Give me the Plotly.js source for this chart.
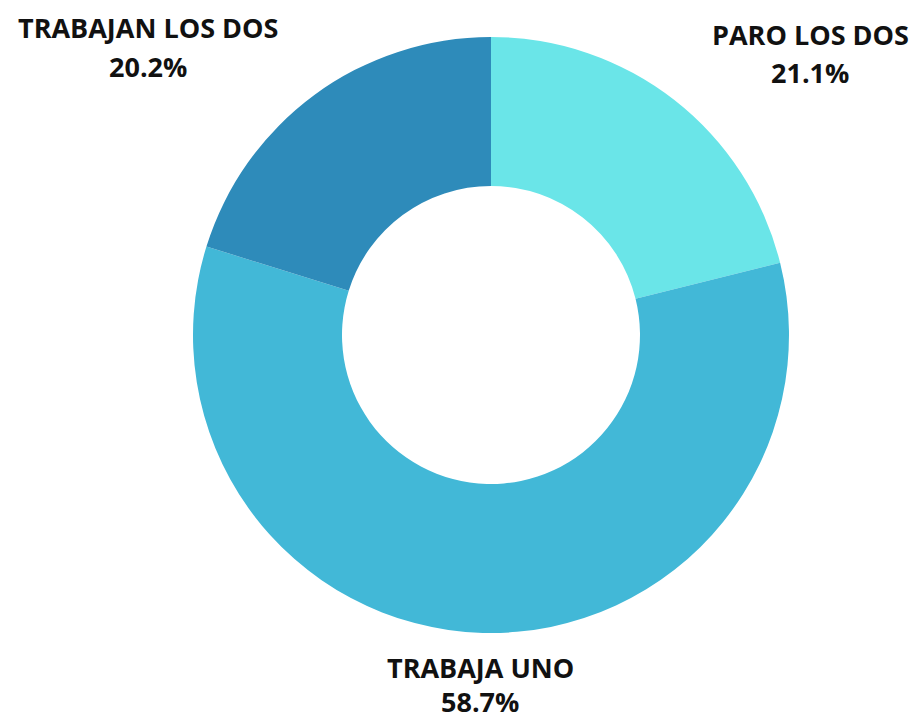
<!DOCTYPE html>
<html>
<head>
<meta charset="utf-8">
<script src="https://cdn.plot.ly/plotly-3.0.1.min.js"></script>
<style>html,body{margin:0;padding:0;background:#fff;}#chart{width:915px;height:721px;}</style>
</head>
<body>
<div id="chart"></div>
<script>
const categories = ["PARO LOS DOS", "TRABAJA UNO", "TRABAJAN LOS DOS"];
const values = [21.1, 58.7, 20.2];
const colors = ["#6AE5E8", "#42B8D7", "#2E8BBA"];
// label anchor positions in pixels (name line, percent line)
const labelPos = [
  {x: 810, y1: 35, y2: 73},
  {x: 480, y1: 667, y2: 701},
  {x: 148, y1: 28, y2: 67}
];

const W = 915, H = 721;
const cx = 491, cy = 335, R = 298;

const annotations = [];
categories.forEach((c, i) => {
  const p = labelPos[i];
  [[c, p.y1], [values[i].toFixed(1) + "%", p.y2]].forEach(([t, y]) => {
    annotations.push({
      text: "<b>" + t + "</b>", x: p.x / W, y: 1 - y / H,
      xref: "paper", yref: "paper", xanchor: "center", yanchor: "middle",
      showarrow: false, borderpad: 0,
      font: {family: "Open Sans", size: 27, color: "#111111"}
    });
  });
});

const data = [{
  type: "pie",
  labels: categories,
  values: values,
  hole: 0.5,
  sort: false,
  direction: "clockwise",
  rotation: 0,
  marker: {colors: colors, line: {width: 0}},
  textinfo: "none",
  showlegend: false,
  domain: {x: [(cx - R) / W, (cx + R) / W], y: [1 - (cy + R) / H, 1 - (cy - R) / H]}
}];

const layout = {
  width: W, height: H,
  margin: {l: 0, r: 0, t: 0, b: 0},
  paper_bgcolor: "#ffffff",
  plot_bgcolor: "#ffffff",
  showlegend: false,
  annotations: annotations
};

Plotly.newPlot("chart", data, layout, {displayModeBar: false, staticPlot: true});
</script>
</body>
</html>
